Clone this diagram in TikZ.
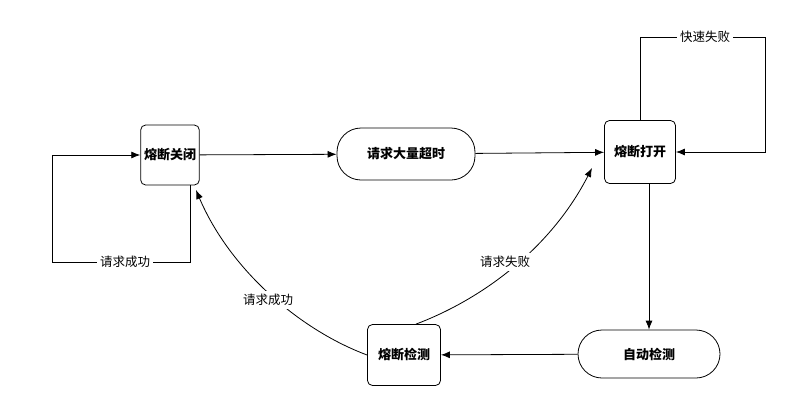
\documentclass[tikz,border=0pt]{standalone}
\usepackage{fontspec}
\setmainfont{Noto Sans CJK SC}
\usetikzlibrary{arrows.meta,positioning,calc}

\begin{document}
\begin{tikzpicture}[x=1pt, y=-1pt,
				      stateBox/.style={
						      draw, rounded corners=5pt, line width=0.8pt,
						      minimum width=55pt, minimum height=60pt,
						      font=\bfseries\fontsize{13}{15}\selectfont
					      },
				      pillBox/.style={
						      draw, rounded corners=24pt, line width=0.8pt,
						      minimum width=140pt, minimum height=50pt,
						      font=\bfseries\fontsize{13}{15}\selectfont
					      },
				      flowArrow/.style={line width=0.8pt, -{Latex[length=9pt,width=7pt]}},
				      edgeLabel/.style={fill=white, inner sep=3pt, font=\fontsize{12.5}{14}\selectfont}
			      ]
	\useasboundingbox (0,0) rectangle (807,413);

	% states
	\node[stateBox] (closed) at (170,155) {熔断关闭};
	\node[pillBox, minimum width=138pt, minimum height=52pt] (timeout) at (406,154) {请求大量超时};
	\node[stateBox, minimum width=71pt, minimum height=63pt] (open) at (640,152) {熔断打开};
	\node[pillBox, minimum width=142pt, minimum height=48pt] (autocheck) at (649,354) {自动检测};
	\node[stateBox, minimum width=73pt, minimum height=61pt] (halfopen) at (404,355) {熔断检测};

	% main flow
	\draw[flowArrow] (closed) -- (timeout);
	\draw[flowArrow] (timeout) -- (open);
	\draw[flowArrow] (open.south -| autocheck.north) -- (autocheck.north);
	\draw[flowArrow] (autocheck) -- (halfopen);

	% fast fail loop
	\draw[flowArrow] (open.north) -- ++(0,-83) -| (765,152) -- (open.east);
	\node[edgeLabel] (fastfail) at (705,37) {快速失败};

	% success loop on closed
	\draw[flowArrow] ($(closed.south)+(20,0)$) -- (190,262) -| (52,155) -- (closed.west);
	\node[edgeLabel] (okLoop) at (125,262) {请求成功};

	% probe results
	\draw[flowArrow] ($(halfopen.north)+(12,0)$) .. controls (480,300) and (550,250) .. (592,168);
	\node[edgeLabel] (failLabel) at (505,262) {请求失败};
	\draw[flowArrow] (halfopen.west) .. controls (300,330) and (230,270) .. (196,190);
	\node[edgeLabel] (okLabel) at (268,300) {请求成功};
\end{tikzpicture}
\end{document}
